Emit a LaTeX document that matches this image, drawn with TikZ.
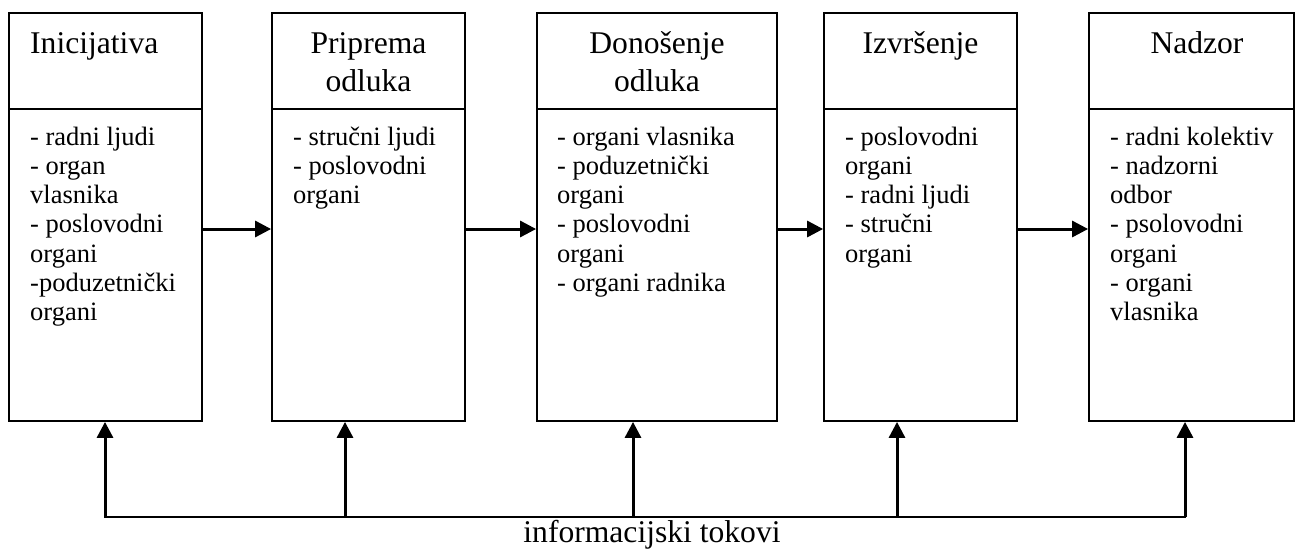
\documentclass[tikz,border=0pt]{standalone}
\usepackage{fontspec}
\setmainfont{Liberation Serif}
\usetikzlibrary{arrows.meta,calc}
\begin{document}
\begin{tikzpicture}[x=1pt,y=-1pt,
  stage/.style={draw, line width=1.8pt, inner sep=0pt},
  divider/.style={line width=1.8pt},
  headfont/.style={font=\fontsize{31.6}{38}\selectfont, inner sep=0pt},
  listtext/.style={font=\fontsize{26.5}{29.3}\selectfont, align=left, anchor=base west, inner sep=0pt},
  flow/.style={line width=3pt, -{Triangle[width=16pt,length=16pt]}},
  bus/.style={line width=2.2pt, line cap=rect}]
\useasboundingbox (0,0) rectangle (1295,549);

% stage boxes
\node[stage, minimum width=193pt, minimum height=408pt] (b1) at (105.5,217) {};
\node[stage, minimum width=193pt, minimum height=408pt] (b2) at (368.5,217) {};
\node[stage, minimum width=240pt, minimum height=408pt] (b3) at (657,217) {};
\node[stage, minimum width=193pt, minimum height=408pt] (b4) at (920.5,217) {};
\node[stage, minimum width=205pt, minimum height=408pt] (b5) at (1191.5,217) {};

% header separators
\foreach \k in {1,...,5}
  \draw[divider] (b\k.west |- 0,109) -- (b\k.east |- 0,109);

% headers (multi-line nodes sit on the baseline of their last line)
\node[headfont, anchor=base west] (h1) at (30,53) {Inicijativa};
\node[headfont, anchor=base, align=center] (h2) at (368.5,91) {Priprema\\odluka};
\node[headfont, anchor=base, align=center] (h3) at (657,91) {Donošenje\\odluka};
\node[headfont, anchor=base] (h4) at (920.5,53) {Izvršenje};
\node[headfont, anchor=base] (h5) at (1197,53) {Nadzor};

% participants, first line baseline at 145, line pitch 29.3
\node[listtext] (l1) at (30,320.8) {- radni ljudi\\- organ\\vlasnika\\- poslovodni\\organi\\-poduzetnički\\organi};
\node[listtext] (l2) at (293,203.6) {- stručni ljudi\\- poslovodni\\organi};
\node[listtext] (l3) at (557,291.5) {- organi vlasnika\\- poduzetnički\\organi\\- poslovodni\\organi\\- organi radnika};
\node[listtext] (l4) at (845,262.2) {- poslovodni\\organi\\- radni ljudi\\- stručni\\organi};
\node[listtext] (l5) at (1110,320.8) {- radni kolektiv\\- nadzorni\\odbor\\- psolovodni\\organi\\- organi\\vlasnika};

% sequence arrows
\foreach \a/\b in {1/2,2/3,3/4,4/5}
  \draw[flow] ([yshift=-12pt]b\a.east) -- ([yshift=-12pt]b\b.west);

% information flow bus
\coordinate (i1) at (105,517);
\coordinate (i2) at (345,517);
\coordinate (i3) at (633,517);
\coordinate (i4) at (897,517);
\coordinate (i5) at (1185,517);
\draw[bus] (i1) -- (i5);
\foreach \k in {1,...,5}
  \draw[flow] (i\k) -- (i\k |- b\k.south);

\node[headfont, anchor=base] (lbl) at (652,542) {informacijski tokovi};
\end{tikzpicture}
\end{document}
